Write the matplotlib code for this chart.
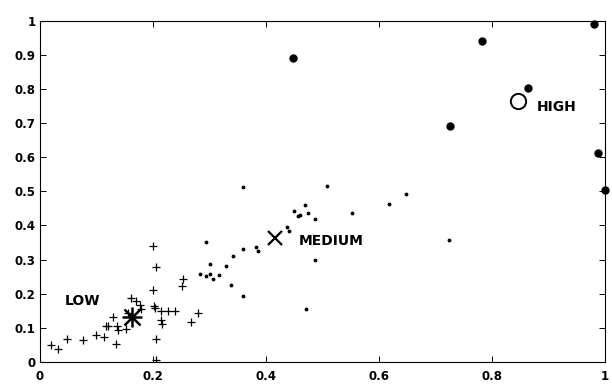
import matplotlib
matplotlib.use("Agg")
import matplotlib.pyplot as plt

plt.rcParams['font.family'] = ['DejaVu Sans']

# LOW cluster (plus markers)
low_x = [0.019, 0.032, 0.048, 0.077, 0.100, 0.113, 0.117, 0.121, 0.129, 0.137,
         0.135, 0.152, 0.139, 0.162, 0.171, 0.177, 0.179, 0.156, 0.201, 0.205,
         0.201, 0.202, 0.204, 0.215, 0.215, 0.217, 0.206, 0.205, 0.227, 0.239,
         0.253, 0.251, 0.280, 0.267]
low_y = [0.050, 0.037, 0.067, 0.065, 0.078, 0.074, 0.106, 0.104, 0.131, 0.104,
         0.052, 0.097, 0.094, 0.187, 0.177, 0.167, 0.155, 0.143, 0.340, 0.278,
         0.211, 0.164, 0.157, 0.150, 0.123, 0.111, 0.067, 0.006, 0.150, 0.150,
         0.243, 0.223, 0.143, 0.118]

# MEDIUM cluster (small dots)
med_x = [0.295, 0.301, 0.284, 0.295, 0.302, 0.307, 0.317, 0.330, 0.342, 0.339,
         0.360, 0.359, 0.360, 0.383, 0.386, 0.437, 0.441, 0.450, 0.457, 0.461,
         0.469, 0.475, 0.488, 0.508, 0.552, 0.487, 0.472, 0.618, 0.648, 0.724]
med_y = [0.351, 0.286, 0.258, 0.252, 0.258, 0.243, 0.255, 0.282, 0.309, 0.226,
         0.512, 0.194, 0.331, 0.336, 0.326, 0.395, 0.385, 0.441, 0.428, 0.431,
         0.460, 0.438, 0.419, 0.517, 0.436, 0.299, 0.155, 0.463, 0.493, 0.358]

# HIGH cluster (big dots)
high_x = [0.448, 0.783, 0.727, 0.865, 0.981, 0.988, 1.0]
high_y = [0.891, 0.942, 0.692, 0.803, 0.990, 0.612, 0.504]

# cluster centres
centre_names = ['LOW', 'MEDIUM', 'HIGH']
centre_x = [0.164, 0.416, 0.847]
centre_y = [0.131, 0.363, 0.765]
label_x = [0.044, 0.459, 0.879]
label_y = [0.177, 0.353, 0.747]

fig = plt.figure(figsize=(6.12, 3.87), dpi=100)
ax = fig.add_axes([0.065, 0.065, 0.923, 0.881])

ax.plot(low_x, low_y, '+', color='black', markersize=6, markeredgewidth=0.9)
ax.plot(med_x, med_y, '.', color='black', markersize=3.5)
ax.plot(high_x, high_y, 'o', color='black', markersize=5, clip_on=False)

# asterisk centre for LOW
ax.plot(centre_x[0], centre_y[0], '+', color='black', markersize=14, markeredgewidth=1.8)
ax.plot(centre_x[0], centre_y[0], 'x', color='black', markersize=11, markeredgewidth=1.8)
ax.plot(centre_x[1], centre_y[1], 'x', color='black', markersize=10, markeredgewidth=1.6)
ax.plot(centre_x[2], centre_y[2], 'o', color='black', markersize=11,
        markerfacecolor='none', markeredgewidth=1.4)

for name, tx, ty in zip(centre_names, label_x, label_y):
    ax.text(tx, ty, name, fontsize=10, fontweight='bold', va='center', ha='left')

ax.set_xlim(0, 1)
ax.set_ylim(0, 1)
ax.set_xticks([0, 0.2, 0.4, 0.6, 0.8, 1])
ax.set_xticklabels(['0', '0.2', '0.4', '0.6', '0.8', '1'])
ax.set_yticks([0, 0.1, 0.2, 0.3, 0.4, 0.5, 0.6, 0.7, 0.8, 0.9, 1])
ax.set_yticklabels(['0', '0.1', '0.2', '0.3', '0.4', '0.5', '0.6', '0.7', '0.8', '0.9', '1'])
ax.tick_params(direction='in', length=4, width=0.7, labelsize=8.5,
               top=True, right=True)
ax.tick_params(axis='x', pad=6)
ax.tick_params(axis='y', pad=3)
for lbl in ax.get_xticklabels() + ax.get_yticklabels():
    lbl.set_fontweight('bold')
for sp in ax.spines.values():
    sp.set_linewidth(0.8)

fig.savefig('out.png', dpi=100)
